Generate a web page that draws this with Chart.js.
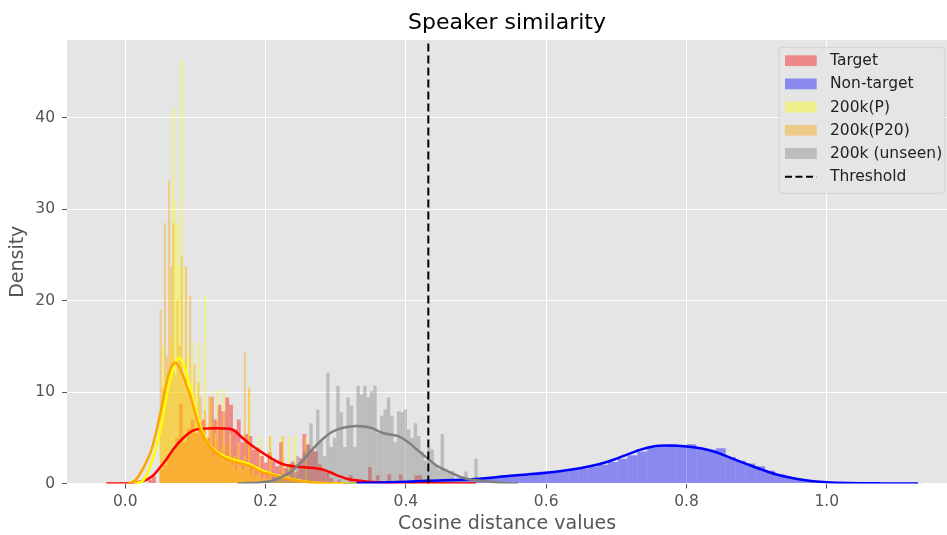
<!DOCTYPE html>
<html>
<head>
<meta charset="utf-8">
<script src="https://cdn.jsdelivr.net/npm/chart.js@4.4.0/dist/chart.umd.min.js"></script>
<style>
html,body{margin:0;padding:0;background:#ffffff;}
#wrap{width:947px;height:535px;position:relative;}
</style>
</head>
<body>
<div id="wrap"><canvas id="c"></canvas></div>
<script>
// ---------------- DATA ----------------
const chartTitle = 'Speaker similarity';
const xLabel = 'Cosine distance values';
const yLabel = 'Density';
const seriesNames = ['Target', 'Non-target', '200k(P)', '200k(P20)', '200k (unseen)'];
const thresholdLabel = 'Threshold';
const thresholdValue = 0.432;
const xTickValues = [0.0, 0.2, 0.4, 0.6, 0.8, 1.0];
const yTickValues = [0, 10, 20, 30, 40];

// Histogram bins: first bin left edge, bin width, densities
const targetBinStart = 0.016, targetBinWidth = 0.0055;
const targetDensity = [0,0,0,0.4,0.8,0,1.5,2,3,3.5,
  5,8.7,4.5,6,7,5.5,6.7,7,5,9.5,
  7,8.6,7.9,9.4,8.6,5.9,7,4.5,5.4,5.2,
  3.7,3.9,3,2.3,3.4,2.4,1.9,4.5,1.7,2.1,
  2.4,1.3,2.8,5.4,4.3,3.7,3.5,2.1,1.5,1.2,
  0.6,0,0.4,0,0,0.9,0,0.4,0,0,
  1.8,0,0.9,0,0,1.0,0,0,1.0,0,
  0,0,0.9,0.9,0.4];

const nonTargetBinStart = 0.31, nonTargetBinWidth = 0.014;
const nonTargetDensity = [0.05,0.03,0.08,0.1,0.05,0.15,0.2,0.15,0.25,0.3,
  0.35,0.4,0.5,0.55,0.65,0.75,0.85,0.95,1.05,1.1,
  1.3,1.25,1.35,1.5,1.65,1.85,2.05,2.35,2.7,3.1,
  3.5,3.95,4.15,4.3,4.1,4.3,3.8,3.7,3.85,2.9,
  2.5,2.2,1.9,1.4,1.0,0.7,0.45,0.3,0.15,0.1,
  0.06,0.04,0.03,0.02,0.02,0.01,0.01,0.01,0.01];

const pBinStart = 0.04, pBinWidth = 0.003;
const p200Density = [0,0,0,6,15,8,12,10,16,41.1,
  30.9,28.5,23.7,46.3,12,23.7,14,9,15.4,8,
  11,15.4,7,6,20.5,5,4,9.5,3,5.5,
  10.3,3,4,10.3,2.5,3,5.5,2,3,1.5,
  4.5,2,1.5,3,2,10.3,1,1.5,0.8,1,
  5.2,0.5,0.8,0.5,0.5,5.2,0.3,0.5,0.3,0.3,
  0.5,5.2,0.3,0.3,5.2,0.3,0.3,5.2,0.2,0.3,
  0.2,0.2,5.0,0];
const p20Density = [0,0,0,19,10.5,28.5,14,33.1,23.7,28.5,
  12,20,15,24.8,11,23.7,10,20.5,9,13,
  8,11,9.5,6,8,5,9.5,4,6.5,3.5,
  5,3,6,2.5,4,4.5,2,3.5,2,3,
  1.5,2.5,1,14.3,2,10.5,1.5,1,2,0.8,
  1.5,0.5,1,0.5,0.8,5.2,0.3,0.5,0.3,0.5,
  0.3,5.2,0.3,0.2,0.2,0.3,0.2,0.2,0.1,0.2,
  0.1,0.1,0,0];

const unseenBinStart = 0.2, unseenBinWidth = 0.0048;
const unseenDensity = [0.3,0,0.8,0.4,1.0,0.6,1.5,2.2,1.2,3.0,
  2.0,3.5,4.2,6.6,3.5,8.1,4.5,3.0,12.1,4.0,
  5.0,10.7,7.8,4.0,9.4,8.5,4.0,10.7,9.7,10.7,
  9.4,10.1,10.7,5.5,7.4,8.1,9.4,7.4,4.5,7.9,
  7.8,8.1,5.9,5.0,6.6,5.2,3.5,2.5,3.9,3.7,
  2.0,1.5,5.4,1.5,1.3,1.4,0.5,0.4,0.8,1.3,
  0.3,0,2.7];

// KDE curves (x positions and densities)
const targetKdeX = [-0.027,0.0,0.015,0.03,0.04,0.05,0.06,0.069,0.083,0.097,0.112,0.13,0.15,0.157,0.164,0.178,0.193,0.207,0.225,0.25,0.268,0.28,0.293,0.305,0.317,0.34,0.37,0.43,0.5];
const targetKdeY = [0,0,0.1,0.4,0.9,1.8,2.8,3.8,5.0,5.8,6.0,6.05,5.95,5.7,5.2,4.3,3.5,2.8,2.1,1.8,1.7,1.55,1.2,0.8,0.5,0.25,0.1,0.03,0];

const nonTargetKdeX = [0.31,0.35,0.4,0.43,0.5,0.55,0.6,0.65,0.675,0.696,0.72,0.744,0.767,0.792,0.815,0.839,0.863,0.887,0.91,0.934,0.958,0.981,1.0,1.03,1.08,1.13];
const nonTargetKdeY = [0,0.08,0.2,0.3,0.5,0.85,1.17,1.7,2.1,2.6,3.3,3.9,4.15,4.1,3.9,3.5,2.8,2.1,1.45,0.87,0.5,0.25,0.13,0.05,0.01,0];

const p200KdeX = [0.012,0.025,0.035,0.043,0.05,0.057,0.064,0.071,0.078,0.085,0.093,0.1,0.107,0.114,0.121,0.136,0.15,0.164,0.178,0.193,0.207,0.221,0.236,0.25,0.27,0.3,0.33];
const p200KdeY = [0,0.3,1.7,3.6,5.9,8.8,11.4,13.2,13.7,12.6,10.3,8.1,6.3,5.0,4.1,3.2,2.7,2.4,2.1,1.5,1.1,0.8,0.5,0.3,0.1,0.02,0];

const p20KdeX = [0.005,0.015,0.025,0.036,0.043,0.05,0.06,0.066,0.072,0.079,0.086,0.093,0.1,0.107,0.121,0.136,0.15,0.164,0.178,0.193,0.207,0.221,0.236,0.25,0.28,0.31];
const p20KdeY = [0,0.4,1.6,3.4,5.3,7.7,11.4,12.8,13.2,12.4,11.0,9.5,7.6,5.9,4.0,3.0,2.5,2.2,1.9,1.3,1.0,0.7,0.45,0.25,0.05,0];

const unseenKdeX = [0.16,0.19,0.21,0.225,0.235,0.245,0.255,0.265,0.282,0.294,0.306,0.318,0.33,0.35,0.368,0.388,0.402,0.416,0.43,0.445,0.464,0.482,0.502,0.52,0.54,0.56];
const unseenKdeY = [0,0.1,0.3,0.8,1.2,1.9,2.7,3.6,4.9,5.6,6.0,6.2,6.3,6.1,5.5,5.2,4.6,3.7,2.8,1.9,1.2,0.6,0.35,0.2,0.05,0];

// ---------------- CHART ----------------
const X_MIN = -0.0831, X_MAX = 1.1714, Y_MAX = 48.5;
const FONT = 'DejaVu Sans';

function bins(start, width, values) {
  return values.map((v, i) => ({ x: +(start + width * (i + 0.5)).toFixed(6), y: v }));
}
function curve(xs, ys) { return xs.map((x, i) => ({ x: x, y: ys[i] })); }

const histColors = ['rgba(255,0,0,0.4)', 'rgba(0,0,255,0.4)', 'rgba(255,255,0,0.4)', 'rgba(255,165,0,0.4)', 'rgba(128,128,128,0.4)'];
const lineColors = ['#ff0000', '#0000ff', '#ffff00', '#ffa500', '#808080'];
const histAxes = ['xT', 'xN', 'xP', 'xQ', 'xU'];
const histData = [
  bins(targetBinStart, targetBinWidth, targetDensity),
  bins(nonTargetBinStart, nonTargetBinWidth, nonTargetDensity),
  bins(pBinStart, pBinWidth, p200Density),
  bins(pBinStart, pBinWidth, p20Density),
  bins(unseenBinStart, unseenBinWidth, unseenDensity)
];
const kdeData = [
  curve(targetKdeX, targetKdeY),
  curve(nonTargetKdeX, nonTargetKdeY),
  curve(p200KdeX, p200KdeY),
  curve(p20KdeX, p20KdeY),
  curve(unseenKdeX, unseenKdeY)
];

const datasets = [];
seriesNames.forEach((name, i) => {
  datasets.push({
    type: 'bar', label: name, data: histData[i], xAxisID: histAxes[i], yAxisID: 'y',
    backgroundColor: histColors[i], borderWidth: 0, grouped: false,
    barPercentage: 1, categoryPercentage: 1, inflateAmount: 0, order: 100 - i
  });
});
seriesNames.forEach((name, i) => {
  datasets.push({
    type: 'line', data: kdeData[i], xAxisID: 'x', yAxisID: 'y',
    borderColor: lineColors[i], borderWidth: 2.5, pointRadius: 0, fill: false,
    cubicInterpolationMode: 'monotone', order: 20 - i
  });
});
datasets.push({
  type: 'line', label: thresholdLabel, xAxisID: 'x', yAxisID: 'y',
  data: [{ x: thresholdValue, y: 0 }, { x: thresholdValue, y: Y_MAX }],
  borderColor: '#000000', borderWidth: 2, borderDash: [8, 4], pointRadius: 0, fill: false, order: 1
});

const hiddenX = { type: 'linear', min: X_MIN, max: X_MAX, offset: false, display: false, grid: { offset: false } };

const bgPlugin = {
  id: 'bg',
  beforeDraw(chart) {
    const { ctx, chartArea: a } = chart;
    ctx.save();
    ctx.fillStyle = '#ffffff';
    ctx.fillRect(0, 0, chart.width, chart.height);
    ctx.fillStyle = '#e5e5e5';
    ctx.fillRect(a.left, a.top, a.right - a.left, a.bottom - a.top);
    ctx.restore();
  }
};

const legendPlugin = {
  id: 'boxLegend',
  afterDraw(chart) {
    const { ctx, chartArea: a } = chart;
    const items = chart.data.datasets.filter(d => d.label);
    const left = a.right - 168, top = a.top + 7.3, w = 166, h = 146, r = 4;
    ctx.save();
    ctx.beginPath();
    ctx.moveTo(left + r, top);
    ctx.lineTo(left + w - r, top); ctx.quadraticCurveTo(left + w, top, left + w, top + r);
    ctx.lineTo(left + w, top + h - r); ctx.quadraticCurveTo(left + w, top + h, left + w - r, top + h);
    ctx.lineTo(left + r, top + h); ctx.quadraticCurveTo(left, top + h, left, top + h - r);
    ctx.lineTo(left, top + r); ctx.quadraticCurveTo(left, top, left + r, top);
    ctx.closePath();
    ctx.fillStyle = 'rgba(229,229,229,0.8)';
    ctx.fill();
    ctx.strokeStyle = 'rgba(204,204,204,0.8)';
    ctx.lineWidth = 1;
    ctx.stroke();
    ctx.font = '15.5px "' + FONT + '"';
    ctx.textBaseline = 'middle';
    ctx.textAlign = 'left';
    items.forEach((d, i) => {
      const cy = top + 13.4 + i * 23.2;
      const px = left + 6, pw = 31.7;
      if (d.type === 'bar') {
        ctx.fillStyle = d.backgroundColor;
        ctx.fillRect(px, cy - 5.4, pw, 10.8);
      } else {
        ctx.strokeStyle = d.borderColor;
        ctx.lineWidth = d.borderWidth;
        ctx.setLineDash([7, 3.5]);
        ctx.beginPath(); ctx.moveTo(px, cy); ctx.lineTo(px + pw, cy); ctx.stroke();
        ctx.setLineDash([]);
      }
      ctx.fillStyle = '#222222';
      ctx.fillText(d.label, left + 51, cy + 0.5);
    });
    ctx.restore();
  }
};

Chart.defaults.font.family = FONT;

new Chart(document.getElementById('c'), {
  type: 'bar',
  data: { datasets: datasets },
  plugins: [bgPlugin, legendPlugin],
  options: {
    responsive: true, maintainAspectRatio: false, devicePixelRatio: 1, animation: false,
    layout: { padding: 0 },
    plugins: {
      legend: { display: false },
      tooltip: { enabled: false },
      title: {
        display: true, text: chartTitle, color: '#000000', fullSize: false,
        font: { family: FONT, size: 22, weight: 'normal' },
        padding: { top: 10, bottom: 3.6 }
      }
    },
    scales: {
      x: {
        type: 'linear', position: 'bottom', min: X_MIN, max: X_MAX, offset: false,
        afterFit: s => { s.height = 51.5; },
        afterBuildTicks: s => { s.ticks = xTickValues.map(v => ({ value: v })); },
        ticks: { color: '#555555', font: { family: FONT, size: 15.5 }, padding: 4, maxRotation: 0, autoSkip: false,
                 callback: v => Number(v).toFixed(1) },
        grid: { color: '#ffffff', lineWidth: 1, tickLength: 5, tickColor: '#555555', offset: false },
        border: { display: false },
        title: { display: true, text: xLabel, color: '#555555', font: { family: FONT, size: 19 }, padding: { top: 0, bottom: 0 } }
      },
      xT: hiddenX, xN: hiddenX, xP: hiddenX, xQ: hiddenX, xU: hiddenX,
      y: {
        type: 'linear', position: 'left', min: 0, max: Y_MAX,
        afterFit: s => { s.width = 67; },
        afterBuildTicks: s => { s.ticks = yTickValues.map(v => ({ value: v })); },
        ticks: { color: '#555555', font: { family: FONT, size: 15.5 }, padding: 7 },
        grid: { color: '#ffffff', lineWidth: 1, tickLength: 5, tickColor: '#555555' },
        border: { display: false },
        title: { display: true, text: yLabel, color: '#555555', font: { family: FONT, size: 19 }, padding: { top: 7, bottom: 0 } }
      }
    }
  }
});
</script>
</body>
</html>
